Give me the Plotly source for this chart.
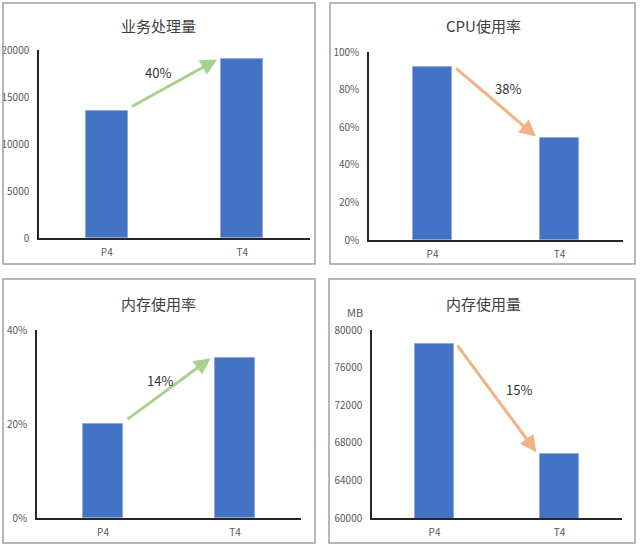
import plotly.graph_objects as go

W, H = 640, 547

categories = ["P4", "T4"]

titles = ["业务处理量", "CPU使用率", "内存使用率", "内存使用量"]
values_throughput = [13500, 19000]
values_cpu = [0.92, 0.54]
values_mem_rate = [0.20, 0.34]
values_mem_mb = [78500, 66800]
change_labels = ["40%", "38%", "14%", "15%"]
series = [values_throughput, values_cpu, values_mem_rate, values_mem_mb]

y_ranges = [[0, 20000], [0, 1.0], [0, 0.40], [60000, 80000]]
y_dticks = [5000, 0.2, 0.2, 4000]
y_formats = ["d", ".0%", ".0%", "d"]

# layout geometry in pixels: (plot left, plot right, plot top, plot bottom)
plot_px = [(39, 310, 50, 238), (369, 623, 52, 240), (37, 301, 330, 518), (372, 622, 330, 518)]
panel_px = [(3, 315, 3, 264), (330, 635, 3, 264), (3, 315, 279, 543), (329, 635, 279, 543)]
title_px = [(158, 25), (483, 25), (158, 303), (483, 303)]
label_px = [(158, 72), (508, 88), (160, 380), (519, 389)]
arrow_colors = ["#A9D18E", "#F4B183", "#A9D18E", "#F4B183"]

BAR_W = 0.31
BAR_COLOR = "#4472C4"
TICK_COLOR = "#595959"
FONT = "Noto Sans CJK SC, Noto Sans, sans-serif"

fig = go.Figure()
annotations = []
shapes = []

for i in range(4):
    xs = "" if i == 0 else str(i + 1)
    xaxis = "x" + xs
    yaxis = "y" + xs
    fig.add_trace(go.Bar(
        x=categories, y=series[i], width=BAR_W,
        marker=dict(color=BAR_COLOR, line=dict(color="#8FAADC", width=1)),
        xaxis=xaxis, yaxis=yaxis, showlegend=False, hoverinfo="skip",
    ))
    l, r, t, b = plot_px[i]
    fig.update_layout(**{
        ("xaxis" + xs): dict(
            domain=[l / W, r / W], anchor=yaxis, type="category",
            range=[-0.5, 1.5], showline=True, linecolor="#262626", linewidth=1.5,
            showgrid=False, zeroline=False, ticks="", automargin=False,
            tickfont=dict(size=10, color=TICK_COLOR, family=FONT),
            ticklabelstandoff=4,
        ),
        ("yaxis" + xs): dict(
            domain=[1 - b / H, 1 - t / H], anchor=xaxis, range=y_ranges[i],
            dtick=y_dticks[i], tick0=y_ranges[i][0], tickformat=y_formats[i],
            showline=True, linecolor="#262626", linewidth=1.5,
            showgrid=False, zeroline=False, ticks="", automargin=False,
            tickfont=dict(size=10, color=TICK_COLOR, family=FONT),
            ticklabelstandoff=6,
        ),
    })
    # panel border
    pl, pr, pt, pb = panel_px[i]
    shapes.append(dict(type="rect", xref="paper", yref="paper",
                       x0=pl / W, x1=pr / W, y0=1 - pb / H, y1=1 - pt / H,
                       line=dict(color="#A0A0A0", width=1.5), fillcolor="rgba(0,0,0,0)"))
    # title
    tx, ty = title_px[i]
    annotations.append(dict(text=titles[i], xref="paper", yref="paper",
                            x=tx / W, y=1 - ty / H, showarrow=False,
                            xanchor="center", yanchor="middle",
                            font=dict(size=15, color="#404040", family=FONT)))
    # change arrow: from top of P4 bar to top of T4 bar
    v0, v1 = series[i]
    span = y_ranges[i][1] - y_ranges[i][0]
    up = v1 > v0
    annotations.append(dict(
        xref=xaxis, yref=yaxis, axref=xaxis, ayref=yaxis,
        ax=BAR_W / 2 + 0.02, ay=v0 + (0.02 * span if up else 0),
        x=1 - BAR_W / 2 - 0.03, y=v1 + (0.0 if up else 0.01 * span),
        text="", showarrow=True, arrowhead=2, arrowsize=1.1, arrowwidth=3,
        arrowcolor=arrow_colors[i], standoff=0, startstandoff=0,
    ))
    lx, ly = label_px[i]
    annotations.append(dict(text=change_labels[i], xref="paper", yref="paper",
                            x=lx / W, y=1 - ly / H, showarrow=False,
                            xanchor="center", yanchor="middle",
                            font=dict(size=13, color="#333333", family=FONT)))

annotations.append(dict(text="MB", xref="paper", yref="paper",
                        x=355 / W, y=1 - 312 / H, showarrow=False,
                        xanchor="center", yanchor="middle",
                        font=dict(size=11, color=TICK_COLOR, family=FONT)))

fig.update_layout(
    width=W, height=H,
    margin=dict(l=0, r=0, t=0, b=0, pad=0, autoexpand=False),
    paper_bgcolor="white", plot_bgcolor="white",
    annotations=annotations, shapes=shapes, bargap=0,
    font=dict(family=FONT), showlegend=False,
)

post = """
var de = document.documentElement, bd = document.body;
[de, bd].forEach(function(e){e.style.margin='0';e.style.padding='0';
  e.style.overflow='hidden';});
"""

fig.write_html("out.html", config={"displayModeBar": False}, post_script=post)
